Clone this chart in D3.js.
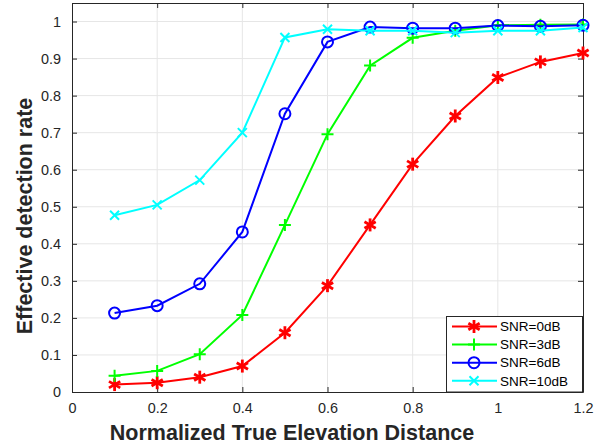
<html>
<head>
<script src="https://d3js.org/d3.v7.min.js"></script>
<style>
body { margin: 0; background: #fff; }
text { font-family: "Liberation Sans", Arial, sans-serif; }
</style>
</head>
<body>
<svg id="chart" width="607" height="447"></svg>
<script>
// data
var distances = [0.1, 0.2, 0.3, 0.4, 0.5, 0.6, 0.7, 0.8, 0.9, 1.0, 1.1, 1.2];
var snr0 = [0.020, 0.025, 0.040, 0.070, 0.160, 0.287, 0.451, 0.615, 0.745, 0.849, 0.891, 0.915];
var snr3 = [0.044, 0.057, 0.102, 0.208, 0.451, 0.696, 0.881, 0.956, 0.975, 0.990, 0.991, 0.992];
var snr6 = [0.213, 0.233, 0.292, 0.432, 0.751, 0.945, 0.985, 0.982, 0.982, 0.989, 0.987, 0.990];
var snr10 = [0.477, 0.505, 0.572, 0.700, 0.957, 0.979, 0.975, 0.975, 0.970, 0.975, 0.975, 0.984];
var seriesNames = ["SNR=0dB", "SNR=3dB", "SNR=6dB", "SNR=10dB"];
var xTicks = [0, 0.2, 0.4, 0.6, 0.8, 1, 1.2];
var yTicks = [0, 0.1, 0.2, 0.3, 0.4, 0.5, 0.6, 0.7, 0.8, 0.9, 1];

var series = [
  {name: seriesNames[0], values: snr0, color: "#ff0000", marker: "star"},
  {name: seriesNames[1], values: snr3, color: "#00ff00", marker: "plus"},
  {name: seriesNames[2], values: snr6, color: "#0000ff", marker: "circle"},
  {name: seriesNames[3], values: snr10, color: "#00ffff", marker: "cross"}
];

var svg = d3.select("#chart");
var pLeft = 72, pRight = 583, pTop = 3, pBottom = 392;

var x = d3.scaleLinear().domain([0, 1.2]).range([pLeft, pRight]);
var y = d3.scaleLinear().domain([0, 1.05]).range([pBottom, pTop]);

// grid
svg.append("g").selectAll("line").data(xTicks.slice(1, -1)).enter().append("line")
  .attr("x1", function(d) { return x(d); }).attr("x2", function(d) { return x(d); })
  .attr("y1", pTop).attr("y2", pBottom)
  .attr("stroke", "#e6e6e6").attr("stroke-width", 1);
svg.append("g").selectAll("line").data(yTicks.slice(1)).enter().append("line")
  .attr("y1", function(d) { return y(d); }).attr("y2", function(d) { return y(d); })
  .attr("x1", pLeft).attr("x2", pRight)
  .attr("stroke", "#e6e6e6").attr("stroke-width", 1);

// axes, inward ticks on all four sides
function styleAxis(g) {
  g.selectAll("path").attr("stroke", "#262626").attr("stroke-width", 1);
  g.selectAll("line").attr("stroke", "#262626");
  g.selectAll("text").attr("fill", "#262626").style("font-size", "14.4px");
}
var fmt = function(d) { return String(+d.toFixed(1)); };

svg.append("g").attr("transform", "translate(0," + pBottom + ")")
  .call(d3.axisBottom(x).tickValues(xTicks).tickFormat(fmt).tickSizeInner(-5).tickSizeOuter(0).tickPadding(11))
  .call(styleAxis);
svg.append("g").attr("transform", "translate(0," + pTop + ")")
  .call(d3.axisTop(x).tickValues(xTicks).tickFormat("").tickSizeInner(-5).tickSizeOuter(0))
  .call(styleAxis);
svg.append("g").attr("transform", "translate(" + pLeft + ",0)")
  .call(d3.axisLeft(y).tickValues(yTicks).tickFormat(fmt).tickSizeInner(-5).tickSizeOuter(0).tickPadding(11))
  .call(styleAxis);
svg.append("g").attr("transform", "translate(" + pRight + ",0)")
  .call(d3.axisRight(y).tickValues(yTicks).tickFormat("").tickSizeInner(-5).tickSizeOuter(0))
  .call(styleAxis);

// markers
function drawMarker(g, type, color) {
  if (type === "star") {
    [0, 60, 120].forEach(function(a) {
      g.append("line").attr("x1", 0).attr("y1", -6.5).attr("x2", 0).attr("y2", 6.5)
        .attr("transform", "rotate(" + a + ")")
        .attr("stroke", color).attr("stroke-width", 2.8);
    });
  } else if (type === "plus") {
    g.append("path").attr("d", "M-6,0H6M0,-6V6").attr("stroke", color).attr("stroke-width", 2).attr("fill", "none");
  } else if (type === "circle") {
    g.append("circle").attr("r", 5.5).attr("stroke", color).attr("stroke-width", 2).attr("fill", "none");
  } else {
    g.append("path").attr("d", "M-4.5,-4.5L4.5,4.5M-4.5,4.5L4.5,-4.5").attr("stroke", color).attr("stroke-width", 2).attr("fill", "none");
  }
}

var line = d3.line()
  .x(function(d, i) { return x(distances[i]); })
  .y(function(d) { return y(d); });

series.forEach(function(s) {
  var g = svg.append("g");
  g.append("path").datum(s.values).attr("d", line)
    .attr("fill", "none").attr("stroke", s.color).attr("stroke-width", 2);
  s.values.forEach(function(v, i) {
    var m = g.append("g").attr("transform", "translate(" + x(distances[i]) + "," + y(v) + ")");
    drawMarker(m, s.marker, s.color);
  });
});

// legend
var lg = svg.append("g");
lg.append("rect").attr("x", 446.5).attr("y", 316.5).attr("width", 136).attr("height", 75.5)
  .attr("fill", "#fff").attr("stroke", "#262626").attr("stroke-width", 1);
series.forEach(function(s, i) {
  var yy = 326.5 + i * 18.1;
  lg.append("line").attr("x1", 452).attr("x2", 497).attr("y1", yy).attr("y2", yy)
    .attr("stroke", s.color).attr("stroke-width", 2);
  var m = lg.append("g").attr("transform", "translate(474," + yy + ")");
  drawMarker(m, s.marker, s.color);
  lg.append("text").attr("x", 500).attr("y", yy).attr("dy", "0.35em")
    .style("font-size", "13.5px").attr("fill", "#000").text(s.name);
});

// axis titles
svg.append("text").attr("x", 292).attr("y", 440)
  .attr("text-anchor", "middle").style("font-size", "21.5px").style("font-weight", "bold")
  .attr("fill", "#262626").text("Normalized True Elevation Distance");
svg.append("text").attr("transform", "translate(31.5,216) rotate(-90)")
  .attr("text-anchor", "middle").style("font-size", "21.5px").style("font-weight", "bold")
  .attr("fill", "#262626").text("Effective detection rate");
</script>
</body>
</html>
